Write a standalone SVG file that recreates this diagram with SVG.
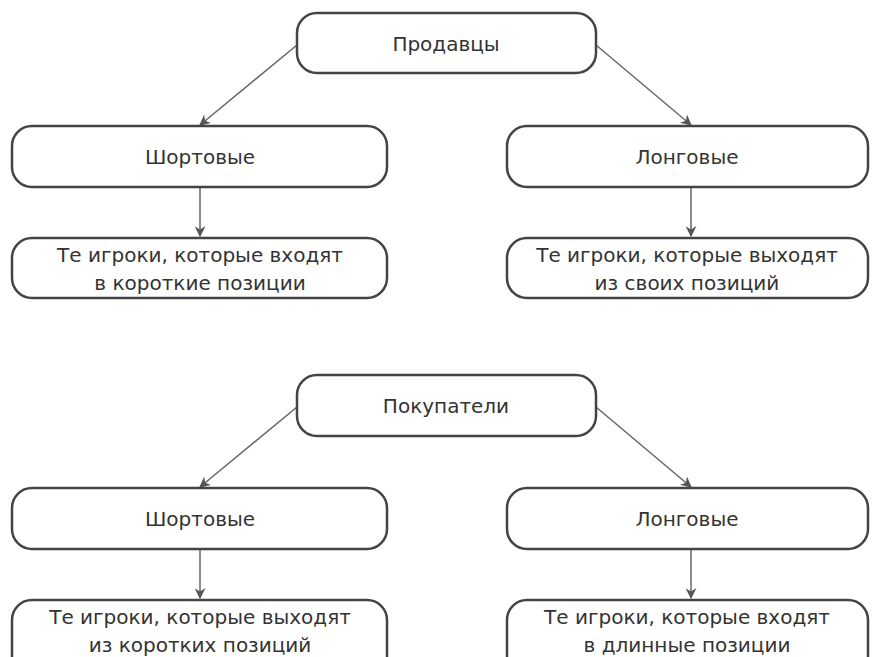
<svg xmlns="http://www.w3.org/2000/svg" width="875" height="657" viewBox="0 0 875 657">
<defs>
<marker id="ah" viewBox="0 0 10 10" refX="9" refY="5" markerWidth="11" markerHeight="11" markerUnits="userSpaceOnUse" orient="auto">
<path d="M0,0 L10,5 L0,10 L3,5 Z" fill="#555"/>
</marker>
<style>
.box{fill:#fff;stroke:#444;stroke-width:2.5}
.t{font-family:"DejaVu Sans","Noto Sans",sans-serif;fill:#333;text-anchor:middle;font-size:20px}
.c{stroke:#666;stroke-width:1.5;fill:none;marker-end:url(#ah)}
</style>
</defs>
<rect width="875" height="657" fill="#fff"/>
<g id="connectors">
<line class="c" x1="297" y1="45" x2="200" y2="125"/>
<line class="c" x1="596" y1="45" x2="691" y2="125"/>
<line class="c" x1="200" y1="188" x2="200" y2="236"/>
<line class="c" x1="691" y1="188" x2="691" y2="236"/>
<line class="c" x1="297" y1="407" x2="200" y2="487"/>
<line class="c" x1="596" y1="407" x2="691" y2="487"/>
<line class="c" x1="200" y1="550" x2="200" y2="598"/>
<line class="c" x1="691" y1="550" x2="691" y2="598"/>
</g>
<g id="n1"><rect class="box" x="297" y="13" width="299" height="60" rx="20"/><text class="t" x="446" y="51">Продавцы</text></g>
<g id="n2"><rect class="box" x="12" y="126" width="375" height="61" rx="20"/><text class="t" x="200" y="164">Шортовые</text></g>
<g id="n3"><rect class="box" x="507" y="126" width="361" height="61" rx="20"/><text class="t" x="687" y="164">Лонговые</text></g>
<g id="n4"><rect class="box" x="12" y="238" width="375" height="60" rx="20"/><text class="t" x="200" y="262">Те игроки, которые входят</text><text class="t" x="200" y="290">в короткие позиции</text></g>
<g id="n5"><rect class="box" x="507" y="238" width="361" height="60" rx="20"/><text class="t" x="687" y="262">Те игроки, которые выходят</text><text class="t" x="687" y="290">из своих позиций</text></g>
<g id="n6"><rect class="box" x="297" y="375" width="299" height="61" rx="20"/><text class="t" x="446" y="413">Покупатели</text></g>
<g id="n7"><rect class="box" x="12" y="488" width="375" height="61" rx="20"/><text class="t" x="200" y="526">Шортовые</text></g>
<g id="n8"><rect class="box" x="507" y="488" width="361" height="61" rx="20"/><text class="t" x="687" y="526">Лонговые</text></g>
<g id="n9"><rect class="box" x="12" y="600" width="375" height="80" rx="20"/><text class="t" x="200" y="624">Те игроки, которые выходят</text><text class="t" x="200" y="652">из коротких позиций</text></g>
<g id="n10"><rect class="box" x="507" y="600" width="361" height="80" rx="20"/><text class="t" x="687" y="624">Те игроки, которые входят</text><text class="t" x="687" y="652">в длинные позиции</text></g>
</svg>
